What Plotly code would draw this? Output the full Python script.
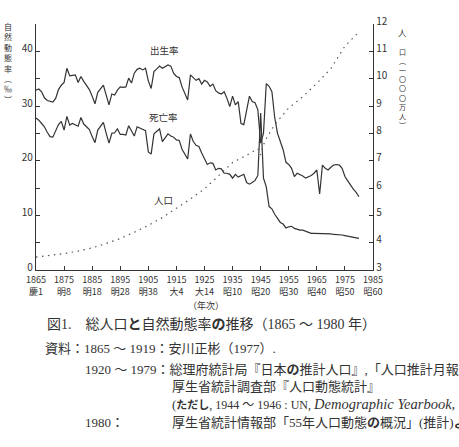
import plotly.graph_objects as go

# ---------------- data ----------------
years = list(range(1865, 1981))

birth_rate = [
    32.9, 33.1, 32.6, 31.5, 31.0, 30.8, 30.7, 31.4, 33.0, 33.8,   # 1865-1874
    34.3, 36.9, 35.5, 35.6, 35.7, 34.3, 35.4, 34.5, 33.8, 33.0,   # 1875-1884
    31.8, 30.4, 32.5, 33.2, 33.8, 32.0, 30.2, 32.2, 32.0, 32.9,   # 1885-1894
    33.5, 33.4, 33.5, 35.1, 34.2, 36.0, 36.7, 36.9, 36.6, 36.9,   # 1895-1904
    34.6, 33.2, 36.3, 36.8, 37.3, 36.9, 37.2, 37.5, 37.3, 36.0,   # 1905-1914
    35.4, 35.2, 33.5, 32.3, 31.1, 35.7, 35.1, 34.7, 35.0, 34.0,   # 1915-1924
    34.7, 34.4, 33.6, 34.0, 32.8, 32.4, 32.2, 32.6, 31.4, 29.9,   # 1925-1934
    31.8, 30.2, 30.8, 26.8, 26.6, 29.4, 31.8, 30.8, 30.6, 29.3,   # 1935-1944
    23.2, 25.0, 34.1, 33.6, 32.6, 27.9, 25.0, 23.5, 22.0, 19.7,   # 1945-1954
    19.3, 18.6, 17.1, 17.7, 17.5, 17.2, 16.8, 17.0, 17.3, 17.7,   # 1955-1964
    18.3, 13.9, 19.2, 18.6, 18.3, 18.8, 19.2, 19.3, 19.2, 18.6,   # 1965-1974
    17.1, 16.3, 15.5, 14.8, 14.2, 13.4,                           # 1975-1980
]

death_rate = [
    27.8, 27.4, 26.8, 26.2, 25.2, 24.4, 24.3, 25.3, 26.6, 27.2,   # 1865-1874
    25.6, 28.1, 26.5, 26.8, 26.5, 26.3, 27.9, 26.7, 26.2, 25.7,   # 1875-1884
    24.4, 23.3, 25.6, 26.4, 27.0, 25.0, 23.2, 25.0, 25.1, 25.8,   # 1885-1894
    24.8, 24.8, 24.7, 26.4, 25.5, 24.5, 26.2, 26.0, 25.8, 25.5,   # 1895-1904
    21.6, 21.2, 24.9, 25.4, 25.8, 23.5, 24.2, 24.9, 24.5, 24.3,   # 1905-1914
    23.8, 23.7, 22.1, 21.2, 20.3, 24.9, 23.5, 22.8, 22.6, 21.4,   # 1915-1924
    20.3, 19.3, 19.6, 19.5, 18.3, 18.6, 18.5, 17.7, 17.7, 17.5,   # 1925-1934
    16.8, 17.5, 17.0, 17.3, 17.5, 16.0, 15.7, 16.0, 16.4, 17.3,   # 1935-1944
    28.7, 16.8, 15.2, 11.6, 11.2, 10.2, 9.4, 8.7, 8.4, 7.7,       # 1945-1954
    7.9, 8.0, 7.6, 7.4, 7.3, 7.3, 7.1, 6.9, 6.7, 6.7,             # 1955-1964
    6.7, 6.7, 6.7, 6.6, 6.6, 6.6, 6.5, 6.5, 6.4, 6.4,             # 1965-1974
    6.3, 6.2, 6.1, 6.0, 5.9, 5.8,                                 # 1975-1980
]

pop_years = [1865, 1870, 1875, 1880, 1885, 1890, 1895, 1900, 1905, 1910,
             1915, 1920, 1925, 1930, 1935, 1940, 1944, 1945, 1946, 1947,
             1950, 1955, 1960, 1965, 1970, 1975, 1980]
population = [3.47, 3.53, 3.60, 3.69, 3.81, 3.97, 4.15, 4.38, 4.63, 4.92,
              5.25, 5.60, 5.97, 6.45, 6.93, 7.20, 7.44, 7.21, 7.58, 7.81,
              8.32, 8.93, 9.34, 9.83, 10.37, 11.19, 11.71]

x_tick_years = list(range(1865, 1986, 10))
era_labels = ["慶1", "明8", "明18", "明28", "明38", "大4", "大14",
              "昭10", "昭20", "昭30", "昭40", "昭50", "昭60"]
left_ticks = [0, 5, 10, 15, 20, 25, 30, 35, 40, 45]
left_ticktext = ["0", "", "10", "", "20", "", "30", "", "40", ""]
right_ticks = list(range(3, 13))

# ---------------- figure ----------------
INK = "#333333"
CJK = "Noto Sans CJK JP"
SER = "Liberation Serif, Noto Sans CJK JP"

fig = go.Figure()
fig.add_trace(go.Scatter(x=years, y=birth_rate, mode="lines",
                         line=dict(color=INK, width=1.2), yaxis="y"))
fig.add_trace(go.Scatter(x=years, y=death_rate, mode="lines",
                         line=dict(color=INK, width=1.2), yaxis="y"))
fig.add_trace(go.Scatter(x=pop_years, y=population, mode="lines",
                         line=dict(color="#555555", width=1.2, dash="1.5px,4.5px"),
                         yaxis="y2"))

ticktext = [f"{y}<br>{e}" for y, e in zip(x_tick_years, era_labels)]

fig.update_layout(
    width=459, height=447, autosize=False,
    margin=dict(l=36, r=86, t=12, b=177, pad=0),
    paper_bgcolor="white", plot_bgcolor="white",
    showlegend=False,
    font=dict(family=CJK, color=INK, size=9),
    xaxis=dict(range=[1865, 1985], tickvals=x_tick_years, ticktext=ticktext,
               ticks="inside", ticklen=4, tickcolor=INK, tickwidth=1,
               ticklabelstandoff=1,
               showline=True, linecolor=INK, linewidth=1.3, showgrid=False,
               zeroline=False, tickfont=dict(size=9, family=CJK, color=INK)),
    yaxis=dict(range=[0, 45], tickvals=left_ticks, ticktext=left_ticktext,
               ticks="inside", ticklen=4, tickcolor=INK, showline=True,
               ticklabelshift=-3,
               linecolor=INK, linewidth=1.3, showgrid=False, zeroline=False,
               tickfont=dict(size=10, family=CJK, color=INK)),
    yaxis2=dict(range=[3, 12], tickvals=right_ticks, overlaying="y",
                side="right", ticks="inside", ticklen=4, tickcolor=INK,
                ticklabelshift=-3,
                showline=True, linecolor=INK, linewidth=1.3, showgrid=False,
                zeroline=False, tickfont=dict(size=10, family=CJK, color=INK)),
)

ann = []

PL, PR, PT, PB = 36, 373, 12, 270


def px(xp):
    return (xp - PL) / (PR - PL)


def py(yp):
    return (PB - yp) / (PB - PT)


def txt(x, y, s, size=9.5, xanchor="center", yanchor="middle", family=CJK):
    ann.append(dict(x=px(x), y=py(y), xref="paper", yref="paper", text=s,
                    showarrow=False, xanchor=xanchor, yanchor=yanchor,
                    font=dict(size=size, family=family, color=INK)))


# in-plot labels
txt(164, 39, "出生率")
txt(163, 110, "死亡率")
txt(163, 197, "人口")
txt(206, 307, "（年次）", size=9)

# left vertical title (one character per line)
txt(8, 7, "<br>".join(["自", "然", "動", "態", "率", "︵", "‰", "︶"]),
    size=8, yanchor="top")

# right vertical title
txt(402, 12, "人", size=8.5, yanchor="top")
txt(402, 34, "<br>".join(["口", "︵", "一", "〇", "〇", "〇", "万", "人", "︶"]),
    size=7, yanchor="top")

# caption and sources
txt(45, 327, "図1.　総人口<b>と</b>自然動態率<b>の</b>推移（1865 ～ 1980 年）",
    size=14, xanchor="left", family=SER)
txt(43, 352, "資料：1865 ～ 1919：安川正彬（1977）.", size=13, xanchor="left",
    family=SER)
txt(83, 374, "1920 ～ 1979：総理府統計局『日本<b>の</b>推計人口』,「人口推計月報」",
    size=13, xanchor="left", family=SER)
txt(170, 392, "厚生省統計調査部『人口動態統計』", size=13, xanchor="left",
    family=SER)
txt(170, 411,
    "(<b><span style='font-size:11px'>ただし</span></b>"
    "<span style='font-size:12px'>, 1944 ～ 1946 : UN, </span>"
    "<i><span style='font-size:14.5px'>Demographic Yearbook,</span></i>",
    size=13, xanchor="left", family=SER)
txt(83, 430, "1980：", size=13, xanchor="left", family=SER)
txt(170, 430, "厚生省統計情報部「55年人口動態<b>の</b>概況」(推計)<b>より</b>",
    size=13, xanchor="left", family=SER)

fig.update_layout(annotations=ann)
fig.write_html("out.html")
